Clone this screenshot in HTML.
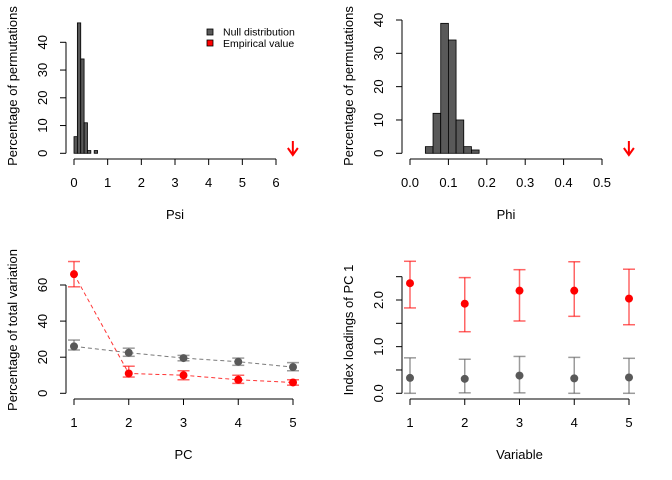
<!DOCTYPE html>
<html><head><meta charset="utf-8"><style>
body{margin:0;background:#fff}
svg{display:block;font-family:"Liberation Sans",Arial,sans-serif}
</style></head><body>
<svg id="c" width="672" height="480" xmlns="http://www.w3.org/2000/svg"></svg>
<script>
// Panel 1: Psi histogram
const psiBins = [0,0.1,0.2,0.3,0.4,0.5,0.6];
const psiCounts = [6,47,34,11,1,0,1];
const psiTicksX = [0,1,2,3,4,5,6];
const psiTicksY = [0,10,20,30,40];
const psiEmp = 6.5;
// Panel 2: Phi histogram
const phiBins = [0.04,0.06,0.08,0.10,0.12,0.14,0.16];
const phiCounts = [2,12,39,34,10,2,1];
const phiTicksX = [0.0,0.1,0.2,0.3,0.4,0.5];
const phiTicksY = [0,10,20,30,40];
const phiEmp = 0.57;
// Panel 3: PC variation
const pcCats = [1,2,3,4,5];
const pcEmp = [66,11,10,7.5,6];
const pcEmpLo = [59,9,7.5,5.5,4.5];
const pcEmpHi = [73,15,12.5,10,7.5];
const pcNull = [26,22.5,19.5,17.5,14.5];
const pcNullLo = [24,20.5,18,15.5,12.5];
const pcNullHi = [29.5,25,21,19.5,17];
const pcTicksY = [0,20,40,60];
// Panel 4: loadings
const varCats = [1,2,3,4,5];
const ldEmp = [2.36,1.92,2.2,2.2,2.03];
const ldEmpLo = [1.83,1.32,1.55,1.65,1.47];
const ldEmpHi = [2.83,2.48,2.65,2.82,2.66];
const ldNull = [0.33,0.31,0.38,0.32,0.34];
const ldNullLo = [0,0.01,0.01,0,0];
const ldNullHi = [0.76,0.73,0.79,0.77,0.75];
const ldTicksY = [0,0.5,1,1.5,2,2.5];
const ldTickLabels = ["0.0","","1.0","","2.0",""];

const svg = document.getElementById('c');
const NS = 'http://www.w3.org/2000/svg';
function el(tag, attrs, parent){const e=document.createElementNS(NS,tag);for(const k in attrs)e.setAttribute(k,attrs[k]);(parent||svg).appendChild(e);return e;}
function txt(s,x,y,attrs,parent){const t=el('text',Object.assign({x:x,y:y,'font-size':13,'text-anchor':'middle',fill:'#000'},attrs||{}),parent);t.textContent=s;return t;}
function lin(d0,d1,r0,r1){return v=>r0+(v-d0)*(r1-r0)/(d1-d0);}

function axes(g,xs,ys,xTicks,xLabels,yTicks,yLabels,xAxisY,yAxisX,xTitle,yTitle,yTitleX,yTitleC){
  const xa=el('g',{},g);
  
  
  el('line',{x1:xs(xTicks[0]),x2:xs(xTicks[xTicks.length-1]),y1:xAxisY,y2:xAxisY,stroke:'#000'},xa);
  xTicks.forEach((v,i)=>{el('line',{x1:xs(v),x2:xs(v),y1:xAxisY,y2:xAxisY+6,stroke:'#000'},xa);
    const t=txt(xLabels[i],xs(v),xAxisY+28,{},xa);
    
    });
  const ya=el('g',{},g);
  
  
  el('line',{x1:yAxisX,x2:yAxisX,y1:ys(yTicks[0]),y2:ys(yTicks[yTicks.length-1]),stroke:'#000'},ya);
  yTicks.forEach((v,i)=>{el('line',{x1:yAxisX-6,x2:yAxisX,y1:ys(v),y2:ys(v),stroke:'#000'},ya);
    if(yLabels[i]!==''){const t=txt(yLabels[i],yAxisX-19,ys(v),{transform:`rotate(-90 ${yAxisX-19} ${ys(v)})`},ya);
    
    }});
  const xt=txt(xTitle,(xs(xTicks[0])+xs(xTicks[xTicks.length-1]))/2,xAxisY+60,{},g);
  
  
  const cy=yTitleC;
  const yt=txt(yTitle,yTitleX,cy,{transform:`rotate(-90 ${yTitleX} ${cy})`},g);
  
  
}
function arrow(g,x){
  const a=el('g',{stroke:'#ff0000','stroke-width':2,fill:'none'},g);
  
  
  el('line',{x1:x,x2:x,y1:141,y2:155},a);
  el('polyline',{points:`${x-5},148 ${x},155 ${x+5},148`},a);
}

// Panel 1
{const g=el('g',{});
 const xs=lin(0,6,74,276), ys=lin(0,40,153.3,42.3);
 psiBins.forEach((b,i)=>{if(psiCounts[i]<=0)return;const r=el('rect',{x:xs(b),y:ys(psiCounts[i]),width:xs(b+0.1)-xs(b),height:ys(0)-ys(psiCounts[i]),fill:'#595959',stroke:'#000','stroke-width':0.8},g);
  
  });
 axes(g,xs,ys,psiTicksX,psiTicksX.map(String),psiTicksY,psiTicksY.map(String),159,66,'Psi','Percentage of permutations',17,86);
 arrow(g,xs(psiEmp));
 const lg=el('g',{},g);
 const l1=el('g',{},lg);
 el('rect',{x:207,y:29,width:6,height:6,fill:'#595959',stroke:'#000','stroke-width':0.8},l1);
 txt('Null distribution',223,35.5,{'font-size':10.5,'text-anchor':'start'},l1);
 const l2=el('g',{},lg);
 el('rect',{x:207,y:40,width:6,height:6,fill:'#ff0000',stroke:'#000','stroke-width':0.8},l2);
 txt('Empirical value',223,47,{'font-size':10.5,'text-anchor':'start'},l2);
}
// Panel 2
{const g=el('g',{});
 const xs=lin(0,0.5,410,602), ys=lin(0,40,153.3,20);
 phiBins.forEach((b,i)=>{const r=el('rect',{x:xs(b),y:ys(phiCounts[i]),width:xs(b+0.02)-xs(b),height:ys(0)-ys(phiCounts[i]),fill:'#595959',stroke:'#000','stroke-width':0.8},g);
  
  });
 axes(g,xs,ys,phiTicksX,phiTicksX.map(v=>v.toFixed(1)),phiTicksY,phiTicksY.map(String),159,402,'Phi','Percentage of permutations',353,86);
 arrow(g,xs(phiEmp));
}
function series(g,xs,ys,cats,vals,lo,hi,color,name,lineFirstOnly){
  const s=el('g',{},g);
  if(lineFirstOnly!==null){el('polyline',{points:cats.map((c,i)=>`${xs(c)},${ys(vals[i])}`).join(' '),fill:'none',stroke:color,'stroke-dasharray':'4,3','stroke-width':1,opacity:0.8},s);}
  cats.forEach((c,i)=>{const x=xs(c);
    el('line',{x1:x,x2:x,y1:ys(lo[i]),y2:ys(hi[i]),stroke:color,'stroke-width':1.5,opacity:0.6},s);
    el('line',{x1:x-6,x2:x+6,y1:ys(lo[i]),y2:ys(lo[i]),stroke:color,'stroke-width':1.5,opacity:0.6},s);
    el('line',{x1:x-6,x2:x+6,y1:ys(hi[i]),y2:ys(hi[i]),stroke:color,'stroke-width':1.5,opacity:0.6},s);
    const p=el('circle',{cx:x,cy:ys(vals[i]),r:4,fill:color},s);
    
    });
}
// Panel 3
{const g=el('g',{});
 const xs=lin(1,5,74,293), ys=lin(0,60,393.3,285);
 axes(g,xs,ys,pcCats,pcCats.map(String),pcTicksY,pcTicksY.map(String),399,66,'PC','Percentage of total variation',17,330);
 series(g,xs,ys,pcCats,pcNull,pcNullLo,pcNullHi,'#595959','null-series',true);
 series(g,xs,ys,pcCats,pcEmp,pcEmpLo,pcEmpHi,'#ff0000','empirical-series',true);
}
// Panel 4
{const g=el('g',{});
 const xs=lin(1,5,410,629), ys=lin(0,2,393.3,300);
 axes(g,xs,ys,varCats,varCats.map(String),ldTicksY,ldTickLabels,399,402,'Variable','Index loadings of PC 1',353,330);
 series(g,xs,ys,varCats,ldNull,ldNullLo,ldNullHi,'#595959','null-series',null);
 series(g,xs,ys,varCats,ldEmp,ldEmpLo,ldEmpHi,'#ff0000','empirical-series',null);
}
</script>
</body></html>
